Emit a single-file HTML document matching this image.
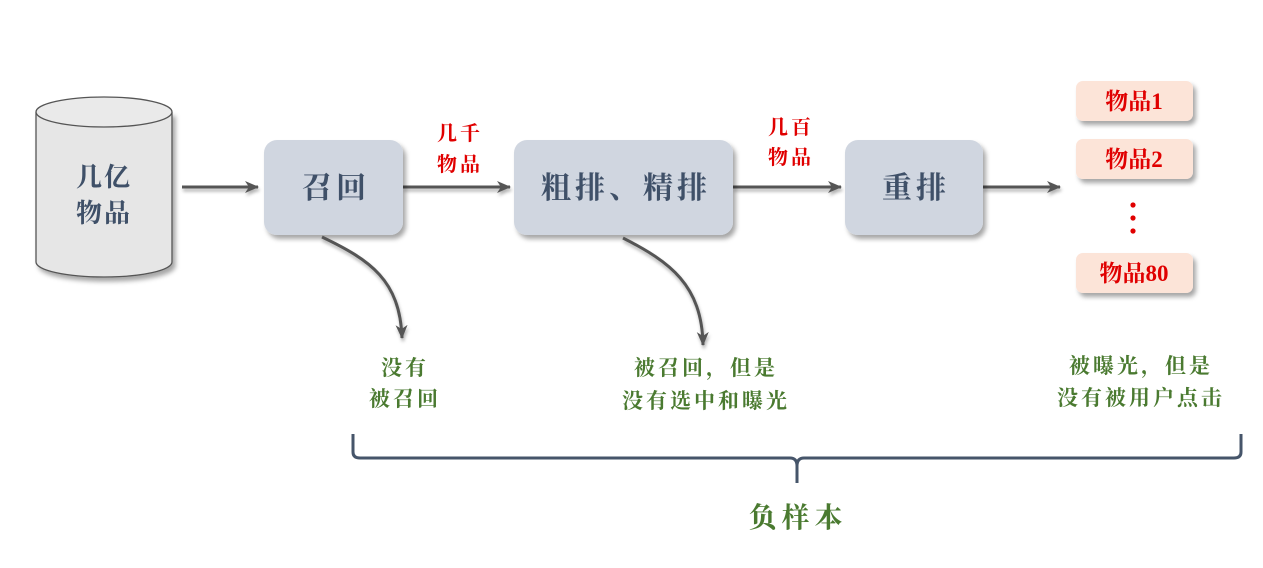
<!DOCTYPE html>
<html><head><meta charset="utf-8"><style>
html,body{margin:0;padding:0;background:#fff;width:1263px;height:568px;overflow:hidden}
text{font-family:"Liberation Serif","Noto Serif CJK SC",serif;font-weight:bold}
</style></head><body>
<svg width="1263" height="568" viewBox="0 0 1263 568" xmlns="http://www.w3.org/2000/svg">
<defs>
<filter id="sh" x="-20%" y="-20%" width="150%" height="160%"><feDropShadow dx="3" dy="4" stdDeviation="2.5" flood-color="#000" flood-opacity="0.35"/></filter>
<filter id="sh2" filterUnits="userSpaceOnUse" x="0" y="0" width="1263" height="568"><feDropShadow dx="1" dy="3" stdDeviation="1.5" flood-color="#000" flood-opacity="0.3"/></filter>
<marker id="ah" markerWidth="16" markerHeight="14" refX="13" refY="6" orient="auto" markerUnits="userSpaceOnUse"><path d="M0,0 L14,6 L0,12 L4,6 Z" fill="#555"/></marker>
</defs>
<path d="M36,112 L36,262 A68,15 0 0 0 172,262 L172,112" fill="#e6e6e6" stroke="#555" stroke-width="1.3" filter="url(#sh)"/>
<ellipse cx="104" cy="112" rx="68" ry="15" fill="#eaeaea" stroke="#555" stroke-width="1.3"/>
<text x="104" y="186" font-size="26" fill="#3f5068" text-anchor="middle" letter-spacing="2">几亿</text>
<text x="104" y="222" font-size="26" fill="#3f5068" text-anchor="middle" letter-spacing="2">物品</text>
<g stroke="#555" stroke-width="3" filter="url(#sh2)">
<line x1="182" y1="187" x2="258" y2="187" marker-end="url(#ah)"/>
<line x1="403" y1="187" x2="510" y2="187" marker-end="url(#ah)"/>
<line x1="733" y1="187" x2="841" y2="187" marker-end="url(#ah)"/>
<line x1="983" y1="187" x2="1060" y2="187" marker-end="url(#ah)"/>
</g>
<g filter="url(#sh)" fill="#d0d6e0">
<rect x="264" y="140" width="139" height="95" rx="13"/>
<rect x="514" y="140" width="219" height="95" rx="13"/>
<rect x="845" y="140" width="138" height="95" rx="13"/>
</g>
<g font-size="30" fill="#3f5068" text-anchor="middle" letter-spacing="4">
<text x="336" y="198">召回</text>
<text x="626" y="198">粗排、精排</text>
<text x="916" y="198">重排</text>
</g>
<g font-size="20" fill="#e00000" text-anchor="middle" letter-spacing="3">
<text x="460" y="140">几千</text><text x="460" y="171">物品</text>
<text x="791" y="134">几百</text><text x="791" y="164">物品</text>
</g>
<g filter="url(#sh)" fill="#fce4d8">
<rect x="1076" y="81" width="117" height="40" rx="7"/>
<rect x="1076" y="139" width="117" height="40" rx="7"/>
<rect x="1076" y="253" width="117" height="40" rx="7"/>
</g>
<g font-size="23" fill="#e00000" text-anchor="middle" style="font-weight:normal">
<text x="1134" y="109">物品1</text>
<text x="1134" y="167">物品2</text>
<text x="1134" y="281">物品80</text>
</g>
<g fill="#e00000"><circle cx="1133" cy="205" r="2.6"/><circle cx="1133" cy="218" r="2.6"/><circle cx="1133" cy="231" r="2.6"/></g>
<g stroke="#555" stroke-width="3" fill="none" filter="url(#sh2)">
<path d="M322,237 C370,260 400,280 402,338" marker-end="url(#ah)"/>
<path d="M623,238 C670,262 702,285 703,345" marker-end="url(#ah)"/>
</g>
<g font-size="21" fill="#4a7a30" text-anchor="middle" letter-spacing="3">
<text x="405" y="375">没有</text><text x="405" y="406">被召回</text>
<text x="706" y="375">被召回，但是</text><text x="706" y="408">没有选中和曝光</text>
<text x="1141" y="373">被曝光，但是</text><text x="1141" y="405">没有被用户点击</text>
</g>
<path d="M353,434 L353,452 Q353,458 360,458 L790,458 Q797,458 797,466 L797,483 M797,466 Q797,458 804,458 L1234,458 Q1241,458 1241,452 L1241,434" stroke="#46556a" stroke-width="3" fill="none"/>
<text x="798" y="527" font-size="28" fill="#4a7a30" text-anchor="middle" letter-spacing="5">负样本</text>
</svg>
</body></html>
